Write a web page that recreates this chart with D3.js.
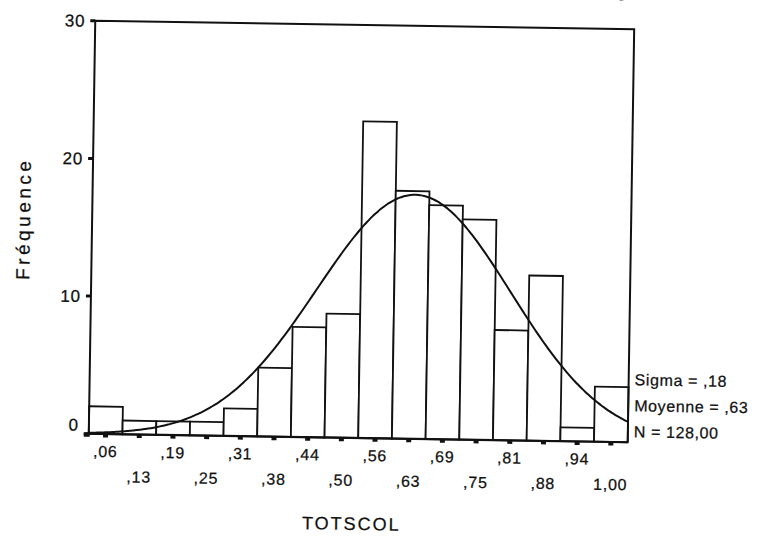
<!DOCTYPE html>
<html>
<head>
<meta charset="utf-8">
<script src="https://cdn.jsdelivr.net/npm/d3@7"></script>
<style>
  body { margin: 0; background: #fff; }
  text { font-family: "Liberation Sans", Arial, sans-serif; fill: #111; stroke: #111; stroke-width: 0.25px; }
</style>
</head>
<body>
<div id="chart"></div>
<script>
// histogram bins (centre of each bin) and counts
const binCenters = [0.0625, 0.125, 0.1875, 0.25, 0.3125, 0.375, 0.4375, 0.5,
                    0.5625, 0.625, 0.6875, 0.75, 0.8125, 0.875, 0.9375, 1.0];
const binLabels = [",06", ",13", ",19", ",25", ",31", ",38", ",44", ",50",
                   ",56", ",63", ",69", ",75", ",81", ",88", ",94", "1,00"];
const frequencies = [2, 1, 1, 1, 2, 5, 8, 9, 23, 18, 17, 16, 8, 12, 1, 4];
const yTicks = [0, 10, 20, 30];

// fitted normal curve parameters (as printed on the chart)
const sigma = 0.18;
const mean = 0.63;
const n = 128;
const statLines = ["Sigma = ,18", "Moyenne = ,63", "N = 128,00"];

const w = 772;
const h = 539;
const binWidth = 1 / 16;

const margin = { top: 25, right: 141, bottom: 101, left: 92 };

const svg = d3.select("#chart")
  .append("svg")
  .attr("width", w)
  .attr("height", h);

// the scan is a little tilted, so the whole page is turned slightly
const g = svg.append("g")
  .attr("transform", "rotate(0.9, 360, 230)");

const xScale = d3.scaleLinear()
  .domain([binCenters[0] - binWidth / 2, binCenters[binCenters.length - 1] + binWidth / 2])
  .range([margin.left, w - margin.right]);

const yScale = d3.scaleLinear()
  .domain([0, 30])
  .range([h - margin.bottom, margin.top]);

const x0 = xScale.range()[0], x1 = xScale.range()[1];
const y0 = yScale(0), yTop = yScale(30);

// cut-off title at the top (only the bottom of it shows on the scan)
g.append("text")
  .attr("x", 622)
  .attr("y", -4)
  .attr("text-anchor", "end")
  .style("font-size", "17px")
  .text("Résultats scolaires");

// bars
g.selectAll("rect.bar")
  .data(frequencies)
  .enter()
  .append("rect")
  .attr("class", "bar")
  .attr("x", (d, i) => xScale(binCenters[i] - binWidth / 2))
  .attr("y", (d) => yScale(d))
  .attr("width", xScale(binWidth) - xScale(0))
  .attr("height", (d) => y0 - yScale(d))
  .style("fill", "#fff")
  .style("stroke", "#111")
  .style("stroke-width", 1.8);

// frame: left, top, right + baseline
g.append("path")
  .attr("d", "M" + x0 + "," + y0 + "V" + yTop + "H" + x1 + "V" + y0)
  .style("fill", "none")
  .style("stroke", "#111")
  .style("stroke-width", 2);

g.append("line")
  .attr("x1", x0 - 4).attr("x2", x1)
  .attr("y1", y0).attr("y2", y0)
  .style("stroke", "#111")
  .style("stroke-width", 2.2);

// normal curve
const curveX = d3.range(xScale.domain()[0], xScale.domain()[1] + 0.001, 0.005);
const line = d3.line()
  .x((d) => xScale(d))
  .y((d) => yScale(n * binWidth / (sigma * Math.sqrt(2 * Math.PI)) *
                   Math.exp(-0.5 * Math.pow((d - mean) / sigma, 2))))
  .curve(d3.curveBasis);

g.append("path")
  .datum(curveX)
  .attr("d", line)
  .style("fill", "none")
  .style("stroke", "#111")
  .style("stroke-width", 2);

// y axis ticks and labels
g.selectAll("rect.ytick")
  .data(yTicks)
  .enter()
  .append("rect")
  .attr("class", "ytick")
  .attr("x", x0 - 5)
  .attr("y", (d) => yScale(d) - 1.5)
  .attr("width", 5)
  .attr("height", 3)
  .style("fill", "#111");

g.selectAll("text.ylab")
  .data(yTicks)
  .enter()
  .append("text")
  .attr("class", "ylab")
  .attr("x", x0 - 10)
  .attr("y", (d) => yScale(d) + (d == 0 ? -3 : 6))
  .attr("text-anchor", "end")
  .style("font-size", "17px")
  .style("letter-spacing", "0.8px")
  .text((d) => d);

// x axis: little dark marks under each bin centre
g.selectAll("rect.xtick")
  .data(binCenters)
  .enter()
  .append("rect")
  .attr("class", "xtick")
  .attr("x", (d) => xScale(d) - 2.5)
  .attr("y", y0)
  .attr("width", 5)
  .attr("height", 3.5)
  .style("fill", "#111");

g.append("rect")
  .attr("x", x0 - 5).attr("y", y0 - 1)
  .attr("width", 6).attr("height", 4)
  .style("fill", "#111");

// staggered tick labels
g.selectAll("text.xlab")
  .data(binLabels)
  .enter()
  .append("text")
  .attr("class", "xlab")
  .attr("x", (d, i) => xScale(binCenters[i]))
  .attr("y", (d, i) => i % 2 == 0 ? y0 + 23 : y0 + 48)
  .attr("text-anchor", "middle")
  .style("font-size", "16px")
  .style("letter-spacing", "0.8px")
  .text((d) => d);

// stats box
g.selectAll("text.stat")
  .data(statLines)
  .enter()
  .append("text")
  .attr("class", "stat")
  .attr("x", x1 + 6)
  .attr("y", (d, i) => 381 + i * 26)
  .style("font-size", "16px")
  .style("letter-spacing", "0.6px")
  .text((d) => d);

// axis titles
g.append("text")
  .attr("transform", "translate(30,224) rotate(-90)")
  .attr("text-anchor", "middle")
  .style("font-size", "19px")
  .style("letter-spacing", "3.5px")
  .text("Fréquence");

g.append("text")
  .attr("x", 356)
  .attr("y", 530)
  .attr("text-anchor", "middle")
  .style("font-size", "18px")
  .style("letter-spacing", "2px")
  .text("TOTSCOL");
</script>
</body>
</html>
